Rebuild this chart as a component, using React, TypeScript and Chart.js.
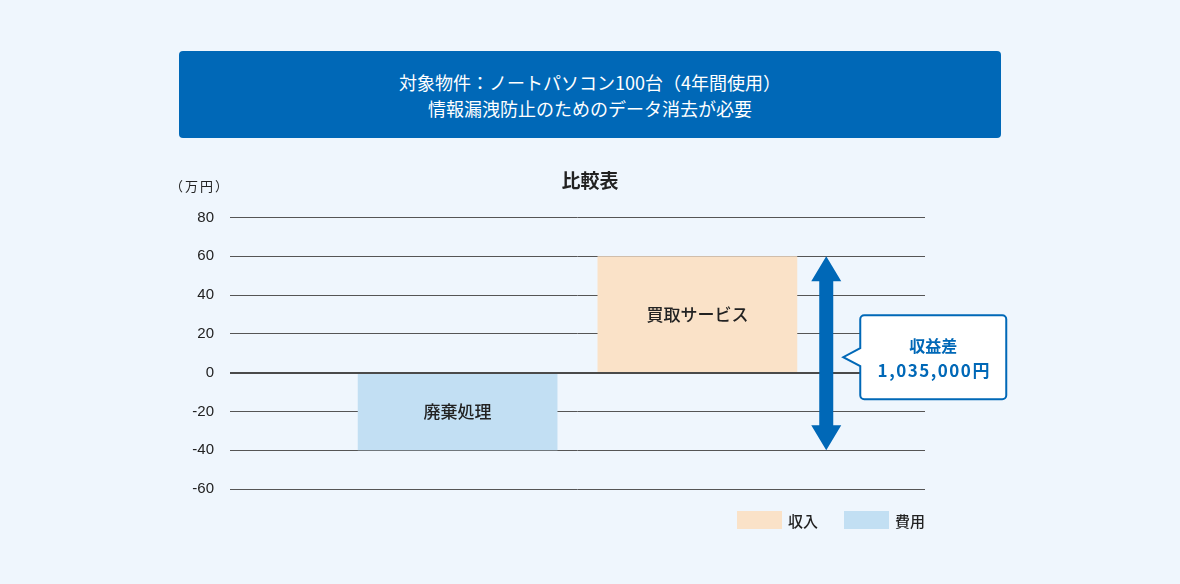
import React, { useEffect, useRef } from 'react';
import { Chart, registerables } from 'chart.js';

Chart.register(...registerables);

// data
const seriesNames = ['費用', '収入'];
const barLabels = ['廃棄処理', '買取サービス'];
const costValues = [-40];
const incomeValues = [60];
const yTicks = [80, 60, 40, 20, 0, -20, -40, -60];
const diffLabel = ['収益差', '1,035,000円'];
const headerLines = ['対象物件：ノートパソコン100台（4年間使用）', '情報漏洩防止のためのデータ消去が必要'];
const chartTitle = '比較表';
const unitLabel = '（万円）';

const BLUE = '#0068b7';
const INCOME_COLOR = '#fae2c8';
const COST_COLOR = '#c2dff3';
const JP = '"Noto Sans CJK JP", "Noto Sans", sans-serif';
const NUM = '"Liberation Sans", Arial, sans-serif';

const overlayPlugin = {
  id: 'overlay',
  afterDatasetsDraw(chart: any) {
    const { ctx, chartArea, scales } = chart;
    const y = scales.y;

    // zero line on top of bars
    const y0 = Math.round(y.getPixelForValue(0));
    ctx.save();
    ctx.strokeStyle = '#4a4a4a';
    ctx.lineWidth = 2;
    ctx.beginPath();
    ctx.moveTo(chartArea.left, y0);
    ctx.lineTo(chartArea.right, y0);
    ctx.stroke();

    // labels inside bars
    ctx.fillStyle = '#222';
    ctx.font = `500 17px ${JP}`;
    ctx.textAlign = 'center';
    ctx.textBaseline = 'middle';
    chart.data.datasets.forEach((ds: any, i: number) => {
      const meta = chart.getDatasetMeta(i);
      meta.data.forEach((bar: any) => {
        const cy = (bar.y + bar.base) / 2;
        ctx.fillText(ds.inner, bar.x, cy);
      });
    });

    // double arrow from top of income to bottom of cost
    const incomeBar = chart.getDatasetMeta(1).data[0];
    const ax = incomeBar.x + incomeBar.width / 2 + 29;
    const top = y.getPixelForValue(incomeValues[0]);
    const bot = y.getPixelForValue(costValues[0]);
    const shaft = 7;
    const head = 15;
    const headLen = 25;
    ctx.fillStyle = BLUE;
    ctx.beginPath();
    ctx.moveTo(ax, top);
    ctx.lineTo(ax + head, top + headLen);
    ctx.lineTo(ax + shaft, top + headLen);
    ctx.lineTo(ax + shaft, bot - headLen);
    ctx.lineTo(ax + head, bot - headLen);
    ctx.lineTo(ax, bot);
    ctx.lineTo(ax - head, bot - headLen);
    ctx.lineTo(ax - shaft, bot - headLen);
    ctx.lineTo(ax - shaft, top + headLen);
    ctx.lineTo(ax - head, top + headLen);
    ctx.closePath();
    ctx.fill();

    // callout box
    const midVal = (incomeValues[0] + costValues[0]) / 2;
    const cy = y.getPixelForValue(midVal) + 4;
    const bx = ax + 34;
    const bw = 146;
    const bh = 84;
    const by = cy - bh / 2;
    const r = 4;
    const tipX = ax + 17;
    ctx.fillStyle = '#fff';
    ctx.strokeStyle = BLUE;
    ctx.lineWidth = 2;
    ctx.beginPath();
    ctx.moveTo(bx + r, by);
    ctx.lineTo(bx + bw - r, by);
    ctx.arcTo(bx + bw, by, bx + bw, by + r, r);
    ctx.lineTo(bx + bw, by + bh - r);
    ctx.arcTo(bx + bw, by + bh, bx + bw - r, by + bh, r);
    ctx.lineTo(bx + r, by + bh);
    ctx.arcTo(bx, by + bh, bx, by + bh - r, r);
    ctx.lineTo(bx, cy + 9);
    ctx.lineTo(tipX, cy);
    ctx.lineTo(bx, cy - 9);
    ctx.lineTo(bx, by + r);
    ctx.arcTo(bx, by, bx + r, by, r);
    ctx.closePath();
    ctx.fill();
    ctx.stroke();

    ctx.fillStyle = BLUE;
    ctx.textAlign = 'center';
    ctx.font = `bold 16px ${JP}`;
    ctx.fillText(diffLabel[0], bx + bw / 2, cy - 11);
    ctx.font = `bold 17px ${JP}`;
    (ctx as any).letterSpacing = '1.5px';
    ctx.fillText(diffLabel[1], bx + bw / 2 + 1, cy + 13);
    (ctx as any).letterSpacing = '0px';
    ctx.restore();
  },
};

const ChartBlock: React.FC = () => {
  const canvasRef = useRef<HTMLCanvasElement>(null);

  useEffect(() => {
    if (!canvasRef.current) return;
    const chart = new Chart(canvasRef.current, {
      type: 'bar',
      data: {
        labels: [''],
        datasets: [
          {
            label: seriesNames[0],
            data: costValues,
            backgroundColor: COST_COLOR,
            inner: barLabels[0],
          } as any,
          {
            label: seriesNames[1],
            data: incomeValues,
            backgroundColor: INCOME_COLOR,
            inner: barLabels[1],
          } as any,
        ],
      },
      options: {
        animation: false,
        responsive: false,
        maintainAspectRatio: false,
        categoryPercentage: 0.69,
        barPercentage: 0.833,
        layout: { padding: { left: 150, right: 255, top: 0, bottom: 11 } },
        plugins: {
          legend: { display: false },
          tooltip: { enabled: false },
          // spacer only; the visible title is centred on the page below
          title: {
            display: true,
            text: chartTitle,
            color: 'rgba(0,0,0,0)',
            font: { family: JP, size: 17, weight: 'bold' },
            padding: { top: 20, bottom: 27 },
          },
        },
        scales: {
          x: { display: false },
          y: {
            min: Math.min(...yTicks),
            max: Math.max(...yTicks),
            afterFit: (s: any) => {
              s.width = 80;
            },
            afterBuildTicks: (s: any) => {
              s.ticks = yTicks.map((v) => ({ value: v }));
            },
            border: { display: false },
            grid: { color: '#555', lineWidth: 1, drawTicks: false },
            ticks: {
              padding: 16,
              color: '#222',
              font: { family: NUM, size: 15 },
            },
          },
        },
      } as any,
      plugins: [overlayPlugin],
    });
    return () => chart.destroy();
  }, []);

  return (
    <canvas
      ref={canvasRef}
      width={1180}
      height={364}
      style={{ position: 'absolute', left: 0, top: 150, width: 1180, height: 364 }}
    />
  );
};

const App: React.FC = () => {
  const legendItems = [
    { name: seriesNames[1], color: INCOME_COLOR, left: 737 },
    { name: seriesNames[0], color: COST_COLOR, left: 844 },
  ];
  return (
    <div
      style={{
        position: 'fixed',
        left: 0,
        top: 0,
        width: 1180,
        height: 584,
        background: '#eff6fd',
        fontFamily: JP,
        overflow: 'hidden',
      }}
    >
      <div
        style={{
          position: 'absolute',
          left: 179,
          top: 51,
          width: 822,
          height: 87,
          background: BLUE,
          borderRadius: 4,
          color: '#fff',
          fontSize: 18,
          fontWeight: 400,
          lineHeight: '26px',
          textAlign: 'center',
          display: 'flex',
          flexDirection: 'column',
          justifyContent: 'center',
        }}
      >
        {headerLines.map((l) => (
          <div key={l}>{l}</div>
        ))}
      </div>
      <div
        style={{
          position: 'absolute',
          left: 0,
          width: 1180,
          top: 168,
          textAlign: 'center',
          fontSize: 19,
          fontWeight: 'bold',
          color: '#222',
          lineHeight: '24px',
          zIndex: 1,
        }}
      >
        {chartTitle}
      </div>
      <div
        style={{
          position: 'absolute',
          left: 170,
          top: 177,
          fontSize: 13,
          letterSpacing: 2,
          color: '#222',
          lineHeight: '18px',
          zIndex: 1,
        }}
      >
        {unitLabel}
      </div>
      <ChartBlock />
      {legendItems.map((it) => (
        <div
          key={it.name}
          style={{
            position: 'absolute',
            left: it.left,
            top: 511,
            height: 18,
            display: 'flex',
            alignItems: 'center',
            fontSize: 15,
            fontWeight: 500,
            color: '#222',
          }}
        >
          <span style={{ display: 'inline-block', width: 45, height: 18, background: it.color, marginRight: 6 }} />
          <span>{it.name}</span>
        </div>
      ))}
    </div>
  );
};

export default App;
